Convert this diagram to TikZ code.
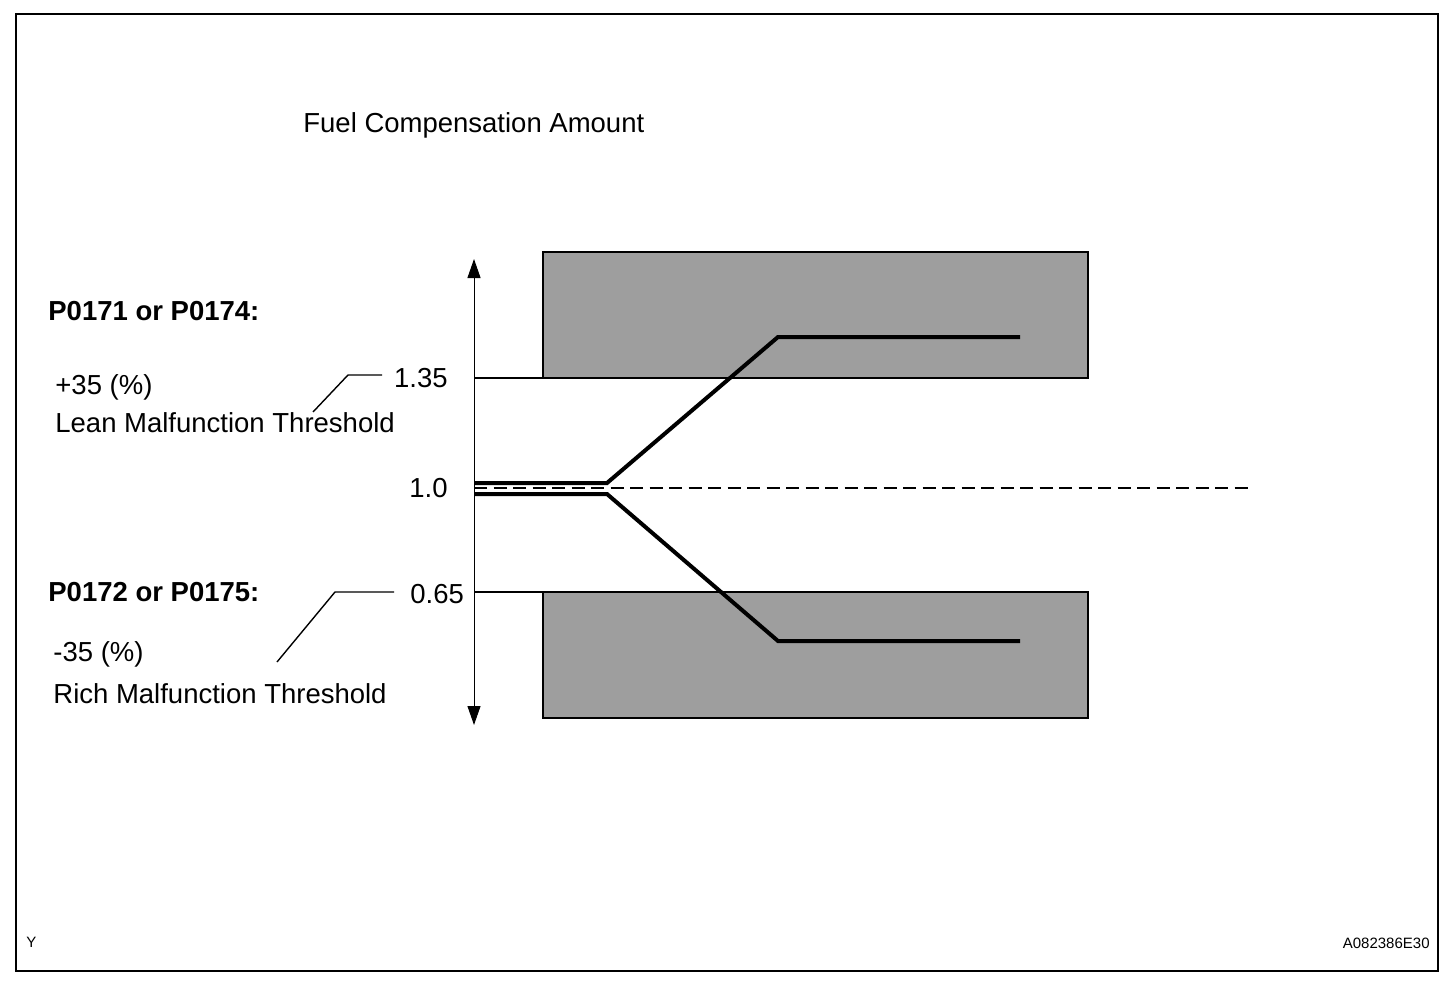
\documentclass[tikz,border=0pt]{standalone}
\usepackage{fontspec}
\setmainfont{Liberation Sans}
\usetikzlibrary{positioning,arrows.meta}

\begin{document}
\begin{tikzpicture}[x=0.5pt,y=-0.5pt,
        txt/.style={inner sep=0pt,anchor=base west,font=\fontsize{13.75}{16}\selectfont},
        small/.style={inner sep=0pt,font=\fontsize{7.5}{9}\selectfont},
        band/.style={draw=black,line width=1pt,fill=black!38},
        level/.style={line width=1.2pt},
        leader/.style={line width=0.7pt},
        trend/.style={line width=2pt,line join=miter}]
        \useasboundingbox (0,0) rectangle (1456,990);
        % 外框
        \draw[line width=1pt] (16,14) rectangle (1438,971);

        % 标题与左侧说明
        \node[txt] (title) at (303,133) {Fuel Compensation Amount};
        \node[txt,font=\fontsize{13.75}{16}\selectfont\bfseries] (leancode) at (48,320) {P0171 or P0174:};
        \node[txt] (leanpct) at (55,394) {+35 (\%)};
        \node[txt] (leanlbl) at (55,432) {Lean Malfunction Threshold};
        \node[txt,font=\fontsize{13.75}{16}\selectfont\bfseries] (richcode) at (48,601) {P0172 or P0175:};
        \node[txt] (richpct) at (53,661) {-35 (\%)};
        \node[txt] (richlbl) at (53,703) {Rich Malfunction Threshold};

        % 刻度值
        \node[txt,anchor=base east] (v135) at (448,387) {1.35};
        \node[txt,anchor=base east] (v100) at (448,497) {1.0};
        \node[txt] (v065) at (410,603) {0.65};

        % 纵轴
        \coordinate (axtop) at (474,259);
        \coordinate (axbot) at (474,725);
        \draw[line width=0.5pt,{Triangle[length=9.5pt,width=6.5pt]}-{Triangle[length=9.5pt,width=6.5pt]}] (axtop) -- (axbot);

        % 故障区域
        \draw[band] (543,252) rectangle (1088,378);
        \draw[band] (543,592) rectangle (1088,718);
        \draw[level] (474,378) -- (543,378);
        \draw[level] (474,592) -- (543,592);

        % 引线
        \coordinate (l135) at (382,375);
        \coordinate (l065) at (394,592);
        \draw[leader] (l135) -- (348,375) -- (313,412);
        \draw[leader] (l065) -- (335,592) -- (277,662);

        % 基准线与补偿曲线
        \draw[line width=1.3pt,dash pattern=on 6.5pt off 3.25pt] (474,488) -- (1250,488);
        \draw[trend] (474,483) -- (607,483) -- (778,337) -- (1020,337);
        \draw[trend] (474,494) -- (607,494) -- (778,641) -- (1020,641);

        % 角标
        \node[small,anchor=base west] (corner) at (26,947) {Y};
        \node[small,anchor=base east] (figid) at (1430,948) {A082386E30};
    \end{tikzpicture}
\end{document}
